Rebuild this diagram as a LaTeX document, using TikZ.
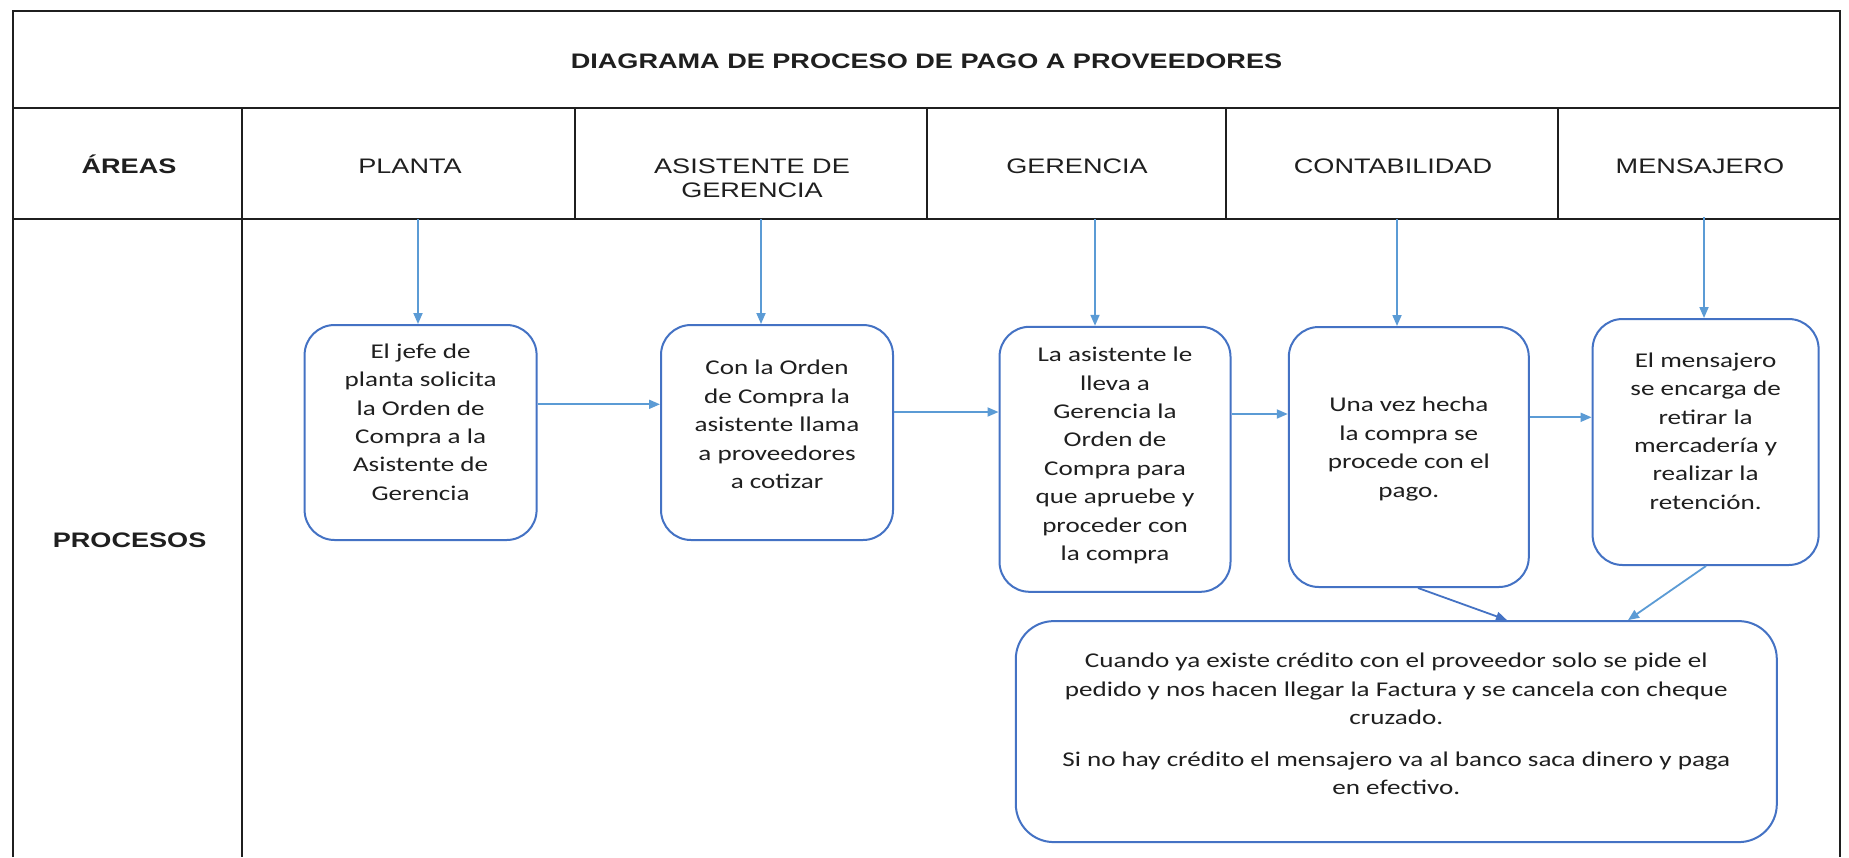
\documentclass[tikz,border=0pt]{standalone}
\usepackage{fontspec}
\setmainfont{Liberation Sans}[FakeStretch=1.29]
\newfontfamily\boxfont{Carlito}[FakeStretch=1.29]
\usetikzlibrary{arrows.meta}
\definecolor{boxblue}{HTML}{4472C4}
\definecolor{arrowblue}{HTML}{5B9BD5}
\definecolor{ink}{HTML}{1F1F1F}
\begin{document}
\begin{tikzpicture}[x=1pt,y=-1pt,
  grid/.style={draw=ink, line width=2pt},
  hdr/.style={font=\fontsize{21}{24}\selectfont, text=ink, inner sep=0pt, align=center},
  hdrb/.style={hdr, font=\fontsize{21}{24}\selectfont\bfseries},
  procbox/.style={draw=boxblue, line width=2pt, rounded corners=30pt, inner sep=0pt},
  bigbox/.style={procbox, rounded corners=38pt},
  boxtxt/.style={font=\boxfont\fontsize{21}{28.4}\selectfont, text=ink, align=center, inner sep=0pt},
  flow/.style={draw=arrowblue, line width=1.8pt, -{Triangle[length=11pt,width=9pt]}},
  flowdark/.style={flow, draw=boxblue, -{Triangle[length=11pt,width=9pt]}},
]
\useasboundingbox (0,0) rectangle (1849,857);
\fill[white] (0,0) rectangle (1849,857);

% table grid
\draw[grid] (13,857) -- (13,11) -- (1840,11) -- (1840,857);
\draw[grid] (13,108) -- (1840,108);
\draw[grid] (13,219) -- (1840,219);
\draw[grid] (242,108) -- (242,857);
\draw[grid] (575,108) -- (575,219);
\draw[grid] (927,108) -- (927,219);
\draw[grid] (1226,108) -- (1226,219);
\draw[grid] (1558,108) -- (1558,219);

% headings
\node[hdrb] (title) at (926.5,61) {DIAGRAMA DE PROCESO DE PAGO A PROVEEDORES};
\node[hdrb, anchor=base] (areas) at (129,173.5) {ÁREAS};
\node[hdr, anchor=base] (planta) at (410,173.5) {PLANTA};
\node[hdr] (asist) at (752,178) {ASISTENTE DE\\GERENCIA};
\node[hdr, anchor=base] (geren) at (1077,173.5) {GERENCIA};
\node[hdr, anchor=base] (conta) at (1393,173.5) {CONTABILIDAD};
\node[hdr, anchor=base] (mensa) at (1700,173.5) {MENSAJERO};
\node[hdrb] (procesos) at (129.6,540.7) {PROCESOS};

% process boxes
\node[procbox, minimum width=232pt, minimum height=215pt] (b1) at (420.6,432.5) {};
\node[procbox, minimum width=232pt, minimum height=215pt] (b2) at (777,432.5) {};
\node[procbox, minimum width=231pt, minimum height=265pt] (b3) at (1115,459.3) {};
\node[procbox, minimum width=240pt, minimum height=260pt] (b4) at (1408.8,457) {};
\node[procbox, minimum width=226pt, minimum height=246pt] (b5) at (1705.6,442) {};
\node[bigbox, minimum width=761pt, minimum height=221pt] (b6) at (1396.3,731.6) {};

\node[boxtxt] (t1) at (b1.center |- 0,422) {El jefe de\\planta solicita\\la Orden de\\Compra a la\\Asistente de\\Gerencia};
\node[boxtxt] (t2) at (b2.center |- 0,424.5) {Con la Orden\\de Compra la\\asistente llama\\a proveedores\\a cotizar};
\node[boxtxt] (t3) at (b3.center |- 0,455.5) {La asistente le\\lleva a\\Gerencia la\\Orden de\\Compra para\\que apruebe y\\proceder con\\la compra};
\node[boxtxt] (t4) at (b4.center |- 0,449) {Una vez hecha\\la compra se\\procede con el\\pago.};
\node[boxtxt] (t5) at (b5.center |- 0,431) {El mensajero\\se encarga de\\retirar la\\mercadería y\\realizar la\\retención.};
\node[boxtxt] (t6) at (b6.center |- 0,724) {Cuando ya existe crédito con el proveedor solo se pide el\\pedido y nos hacen llegar la Factura y se cancela con cheque\\cruzado.\\[13pt]Si no hay crédito el mensajero va al banco saca dinero y paga\\en efectivo.};

% lane entry arrows
\coordinate (pa) at (418,219);
\coordinate (as) at (761,219);
\coordinate (ge) at (1095,219);
\coordinate (co) at (1397,219);
\coordinate (me) at (1704,217);
\draw[flow] (pa) -- (pa |- b1.north);
\draw[flow] (as) -- (as |- b2.north);
\draw[flow] (ge) -- (ge |- b3.north);
\draw[flow] (co) -- (co |- b4.north);
\draw[flow] (me) -- (me |- b5.north);

% horizontal flow
\draw[flow] (b1.east |- 0,404.3) -- (b2.west |- 0,404.3);
\draw[flow] (b2.east |- 0,412) -- (b3.west |- 0,412);
\draw[flow] (b3.east |- 0,414) -- (b4.west |- 0,414);
\draw[flow] (b4.east |- 0,417.3) -- (b5.west |- 0,417.3);

% to the final box
\draw[flowdark] (1418,0 |- b4.south) -- (1507,0 |- b6.north);
\draw[flow] (1706,0 |- b5.south) -- (1628,0 |- b6.north);
\end{tikzpicture}
\end{document}
